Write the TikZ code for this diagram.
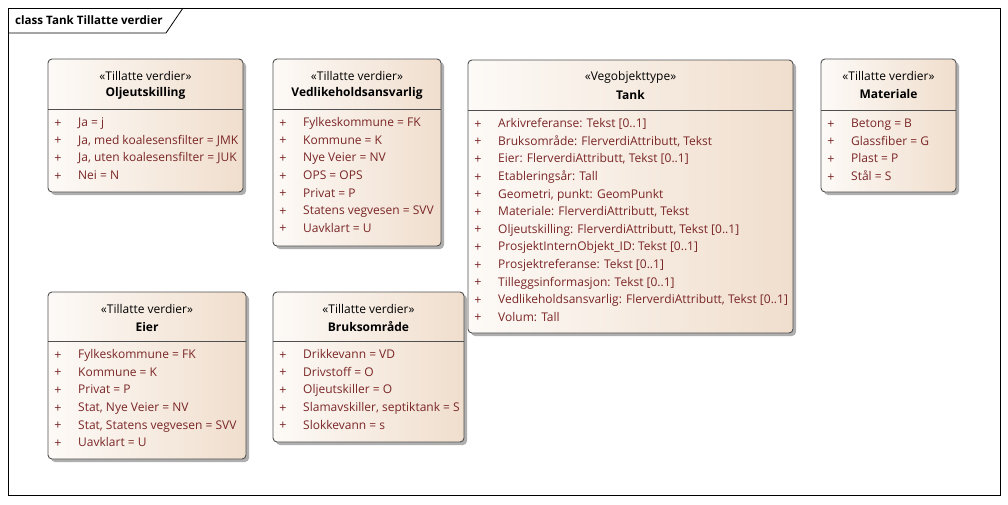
\documentclass[tikz,border=0pt]{standalone}
\usepackage{fontspec}
\setmainfont{Open Sans}
\usetikzlibrary{fit}
\definecolor{itemc}{RGB}{122,38,38}
\definecolor{fillL}{RGB}{253,250,247}
\definecolor{fillR}{RGB}{240,222,205}
\definecolor{borderc}{RGB}{80,80,80}
\definecolor{shadowc}{RGB}{175,175,175}
\tikzset{
  umlbox/.style={draw=borderc, line width=0.9pt, rounded corners=4pt, inner sep=0pt,
    left color=fillL, right color=fillR},
  shadowbox/.style={fill=shadowc, rounded corners=4pt},
  sepline/.style={draw=borderc, line width=0.8pt},
  stereo/.style={font=\fontsize{12}{14}\selectfont, inner sep=0pt, text=black},
  titletext/.style={font=\fontsize{12}{14}\selectfont\bfseries, inner sep=0pt, text=black},
  plussign/.style={font=\fontsize{12.5}{14}\selectfont, inner sep=0pt, text=itemc},
  itemtext/.style={font=\fontsize{12}{14}\selectfont, inner sep=0pt, text=itemc, anchor=west,
    text height=8.8pt, text depth=2.6pt},
  framebox/.style={draw=black, line width=0.8pt},
  framelabel/.style={font=\fontsize{11.6}{13}\selectfont\bfseries, inner sep=0pt, anchor=west},
}
% #1 name, #2 x1, #3 y1, #4 x2, #5 y2, #6 separator y, #7 stereotype, #8 title, #9 items
\newcommand{\umlclass}[9]{%
  \fill[shadowbox] (#2+3,#3+3) rectangle (#4+3,#5+3);
  \coordinate (#1-nw) at (#2,#3);
  \coordinate (#1-se) at (#4,#5);
  \node[umlbox, fit=(#1-nw)(#1-se)] (#1) {};
  \draw[sepline] (#2,#6) -- (#4,#6);
  \node[stereo] (#1-st) at ({(#2+#4)/2},#3+17) {«#7»};
  \node[titletext] (#1-ti) at ({(#2+#4)/2},#3+34.5) {#8};
  \foreach \t [count=\i] in {#9} {
    \node[plussign] (#1-p\i) at (#2+10,{#6+14.5+(\i-1)*17.6}) {+};
    \node[itemtext] (#1-i\i) at (#2+30,{#6+14.5+(\i-1)*17.6}) {\t};
  }%
}
\begin{document}
\begin{tikzpicture}[x=1pt,y=-1pt]
\useasboundingbox (0,0) rectangle (1008,504);
\fill[white] (0,0) rectangle (1008,504);
% frame
\draw[framebox] (8,8) rectangle (1000,495);
\coordinate (tabA) at (8,33);
\coordinate (tabB) at (166,33);
\coordinate (tabC) at (183,8);
\draw[framebox] (tabA) -- (tabB) -- (tabC);
\node[framelabel] (flabel) at (15,20.5) {class Tank Tillatte verdier};

\umlclass{olje}{48}{59}{243}{192}{109}{Tillatte verdier}{Oljeutskilling}%
  {{Ja = j},{Ja, med koalesensfilter = JMK},{Ja, uten koalesensfilter = JUK},{Nei = N}}

\umlclass{vedl}{273}{59}{441}{246}{109}{Tillatte verdier}{Vedlikeholdsansvarlig}%
  {{Fylkeskommune = FK},{Kommune = K},{Nye Veier = NV},{OPS = OPS},{Privat = P},{Statens vegvesen = SVV},{Uavklart = U}}

\umlclass{tank}{468}{60}{793}{333}{110}{Vegobjekttype}{Tank}%
  {{Arkivreferanse: Tekst [0..1]},{Bruksområde: FlerverdiAttributt, Tekst},{Eier: FlerverdiAttributt, Tekst [0..1]},{Etableringsår: Tall},{Geometri, punkt: GeomPunkt},{Materiale: FlerverdiAttributt, Tekst},{Oljeutskilling: FlerverdiAttributt, Tekst [0..1]},{ProsjektInternObjekt\_ID: Tekst [0..1]},{Prosjektreferanse: Tekst [0..1]},{Tilleggsinformasjon: Tekst [0..1]},{Vedlikeholdsansvarlig: FlerverdiAttributt, Tekst [0..1]},{Volum: Tall}}

\umlclass{mat}{821}{59}{956}{192}{110}{Tillatte verdier}{Materiale}%
  {{Betong = B},{Glassfiber = G},{Plast = P},{Stål = S}}

\umlclass{eier}{48}{292}{246}{459}{341}{Tillatte verdier}{Eier}%
  {{Fylkeskommune = FK},{Kommune = K},{Privat = P},{Stat, Nye Veier = NV},{Stat, Statens vegvesen = SVV},{Uavklart = U}}

\umlclass{bruk}{273}{292}{464}{442}{341}{Tillatte verdier}{Bruksområde}%
  {{Drikkevann = VD},{Drivstoff = O},{Oljeutskiller = O},{Slamavskiller, septiktank = S},{Slokkevann = s}}
\end{tikzpicture}
\end{document}
